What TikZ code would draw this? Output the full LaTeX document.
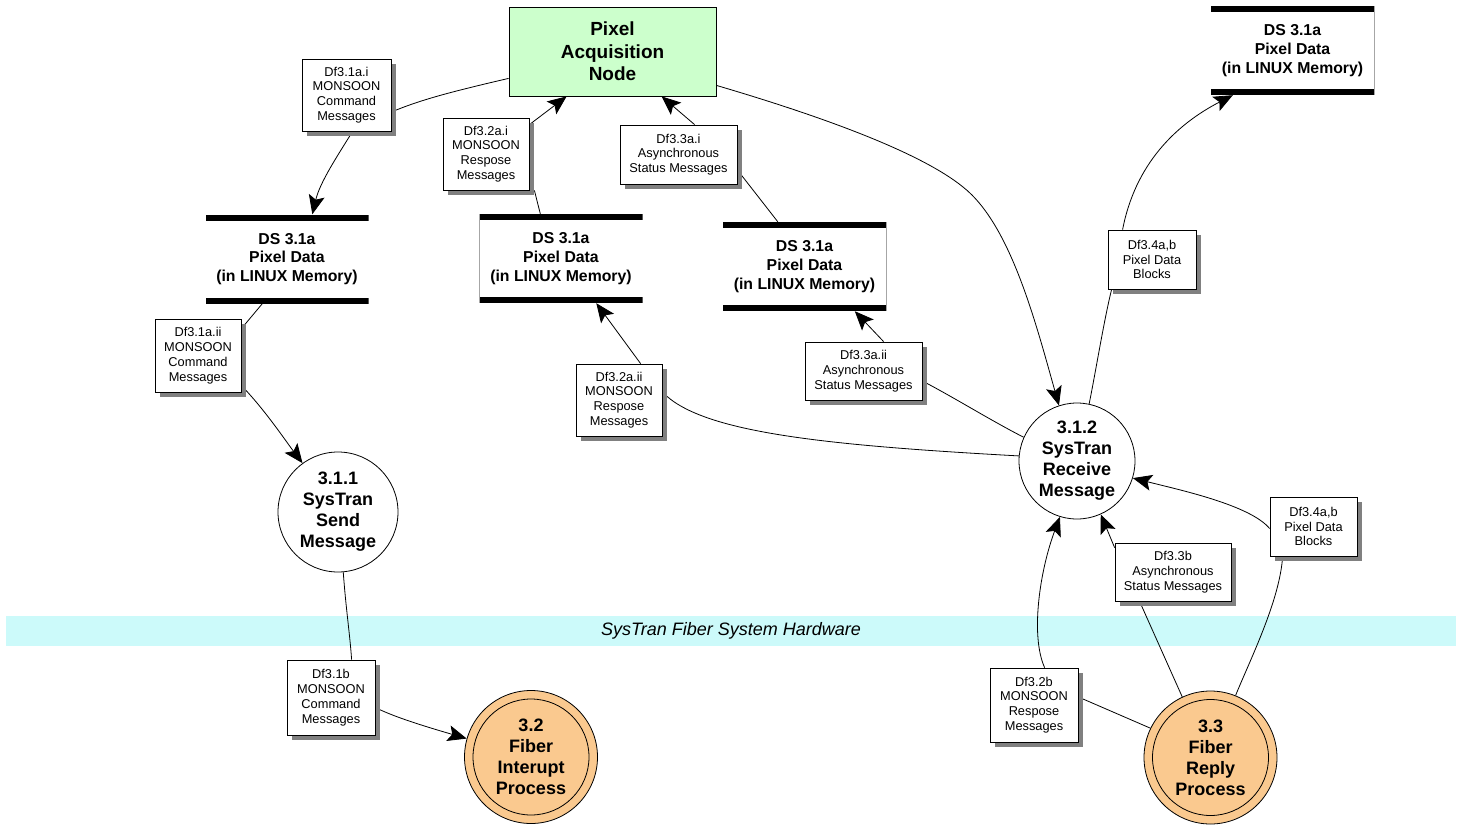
\documentclass[tikz,border=0pt]{standalone}
\usepackage{fontspec}
\setmainfont{Liberation Sans}
\usetikzlibrary{arrows.meta,shadows}
\definecolor{pangreen}{RGB}{204,255,204}
\definecolor{peach}{RGB}{250,201,143}
\definecolor{bandcyan}{RGB}{204,250,250}
\definecolor{shadowgray}{RGB}{128,128,128}
\pgfdeclarelayer{back}
\pgfdeclarelayer{flows}
\pgfsetlayers{back,flows,main}

\begin{document}
\begin{tikzpicture}[x=1pt,y=-1pt,
  every node/.style={inner sep=0pt, align=center},
  flowlabel/.style={rectangle, draw=black, line width=0.8pt, fill=white,
    drop shadow={shadow xshift=5pt, shadow yshift=-5pt, fill=shadowgray, opacity=1},
    font=\fontsize{12.8}{14.8}\selectfont},
  process/.style={circle, draw=black, line width=0.8pt, fill=white, minimum size=#1,
    font=\bfseries\fontsize{18}{21}\selectfont},
  hwprocess/.style={process=#1, fill=peach,
    path picture={\draw[line width=0.8pt] (path picture bounding box.center) circle[radius=58pt];}},
  store/.style={rectangle, fill=white, minimum width=163pt, minimum height=89pt,
    font=\bfseries\fontsize{15.8}{18.7}\selectfont,
    path picture={
      \fill[black] (path picture bounding box.north west) rectangle ([yshift=-6pt]path picture bounding box.north east);
      \fill[black] (path picture bounding box.south west) rectangle ([yshift=6pt]path picture bounding box.south east);}},
  storeside/.style={draw=black!35, line width=0.6pt},
  conn/.style={draw=black, line width=0.8pt},
  connarrow/.style={conn, -{Stealth[length=19pt,width=16pt,inset=4pt]}}
]
\useasboundingbox (0,0) rectangle (1464,825);

% hardware band
\begin{pgfonlayer}{back}
  \node[fill=bandcyan, minimum width=1450pt, minimum height=30pt,
        font=\itshape\fontsize{18}{20}\selectfont] (band) at (731,631) {SysTran Fiber System Hardware};
\end{pgfonlayer}

% external node
\node[rectangle, draw=black, line width=0.8pt, fill=pangreen, minimum width=207pt, minimum height=89pt,
      font=\bfseries\fontsize{19}{22.5}\selectfont] (pan) at (612.5,51.5) {Pixel\\Acquisition\\Node};

% data stores
\node[store] (ds1) at (287,259) {DS 3.1a\\Pixel Data\\(in LINUX Memory)};
\node[store] (ds2) at (561,258.5) {DS 3.1a\\Pixel Data\\(in LINUX Memory)};
\node[store] (ds3) at (804.5,266.5) {DS 3.1a\\Pixel Data\\(in LINUX Memory)};
\node[store] (dstr) at (1292.5,50.5) {DS 3.1a\\Pixel Data\\(in LINUX Memory)};
\draw[storeside] (ds2.north west) -- (ds2.south west);
\draw[storeside] (ds3.north east) -- (ds3.south east);
\draw[storeside] (dstr.north east) -- (dstr.south east);

% processes
\node[process=120pt] (c311) at (338,512) {3.1.1\\SysTran\\Send\\Message};
\node[process=116pt] (c312) at (1077,461) {3.1.2\\SysTran\\Receive\\Message};
\node[hwprocess=133pt] (c32) at (531,757) {3.2\\Fiber\\Interupt\\Process};
\node[hwprocess=133pt] (c33) at (1210.5,757.5) {3.3\\Fiber\\Reply\\Process};

% data flow labels
\node[flowlabel, minimum width=89pt, minimum height=72pt] (l1) at (346.5,95) {Df3.1a.i\\MONSOON\\Command\\Messages};
\node[flowlabel, minimum width=86pt, minimum height=72pt] (l2) at (486,154) {Df3.2a.i\\MONSOON\\Respose\\Messages};
\node[flowlabel, minimum width=117pt, minimum height=59pt] (l3) at (678.5,154.5) {Df3.3a.i\\Asynchronous\\Status Messages};
\node[flowlabel, minimum width=86pt, minimum height=73pt] (l4) at (198,355.5) {Df3.1a.ii\\MONSOON\\Command\\Messages};
\node[flowlabel, minimum width=86pt, minimum height=72pt] (l5) at (619,400) {Df3.2a.ii\\MONSOON\\Respose\\Messages};
\node[flowlabel, minimum width=117pt, minimum height=58pt] (l6) at (863.5,371) {Df3.3a.ii\\Asynchronous\\Status Messages};
\node[flowlabel, minimum width=88pt, minimum height=59pt] (l7) at (1152,259.5) {Df3.4a,b\\Pixel Data\\Blocks};
\node[flowlabel, minimum width=87pt, minimum height=59pt] (l8) at (1313.5,526.5) {Df3.4a,b\\Pixel Data\\Blocks};
\node[flowlabel, minimum width=116pt, minimum height=58pt] (l9) at (1173,572) {Df3.3b\\Asynchronous\\Status Messages};
\node[flowlabel, minimum width=88pt, minimum height=75pt] (l10) at (331,697.5) {Df3.1b\\MONSOON\\Command\\Messages};
\node[flowlabel, minimum width=88pt, minimum height=74pt] (l11) at (1034,705) {Df3.2b\\MONSOON\\Respose\\Messages};

% data flows
\begin{pgfonlayer}{flows}
  % command path: node -> store -> send -> interrupt
  \draw[conn] ([yshift=18pt]pan.south west) .. controls (450,92) and (420,100) .. ([yshift=-17pt]l1.east);
  \draw[connarrow] ([xshift=51pt]l1.south west) .. controls (338,155) and (320,182) .. ([xshift=107pt]ds1.north west);
  \draw[conn] ([xshift=57pt]ds1.south west) -- ([yshift=-10pt]l4.north east);
  \draw[connarrow] ([yshift=-30pt]l4.east) .. controls (265,410) and (285,440) .. (c311.126);
  \draw[conn] (c311.-85) .. controls (346,610) and (350,635) .. ([xshift=65pt]l10.north west);
  \draw[connarrow] ([yshift=-10pt]l10.east) .. controls (392,716) and (420,725) .. (c32.164);
  % response path
  \draw[conn] (c312.175) .. controls (820,445) and (700,432) .. ([yshift=8pt]l5.east);
  \draw[connarrow] ([xshift=65pt]l5.north west) -- ([xshift=117pt]ds2.south west);
  \draw[conn] ([xshift=61pt]ds2.north west) -- ([xshift=5pt]l2.south east);
  \draw[connarrow] ([yshift=-7pt]l2.north east) -- ([xshift=58pt]pan.south west);
  % asynchronous status path
  \draw[conn] (c312.156) .. controls (990,420) and (955,398) .. ([yshift=-10pt]l6.east);
  \draw[connarrow] ([xshift=79pt]l6.north west) -- ([xshift=132pt]ds3.south west);
  \draw[conn] ([xshift=55pt]ds3.north west) -- ([yshift=-15.5pt]l3.east);
  \draw[connarrow] ([xshift=75pt]l3.north west) -- ([xshift=153pt]pan.south west);
  % node to receive
  \draw[connarrow] ([yshift=11pt]pan.south east) .. controls (800,110) and (915,148) .. (963,187)
        .. controls (1010,224) and (1035,320) .. (c312.108);
  % pixel data blocks
  \draw[conn] (c312.78) .. controls (1096,370) and (1104,320) .. ([xshift=4pt]l7.south west);
  \draw[connarrow] ([xshift=15pt]l7.north west) .. controls (1135,165) and (1175,125) .. ([xshift=22pt]dstr.south west);
  % reply process outputs
  \draw[conn] (c33.154) -- ([yshift=8pt]l11.east);
  \draw[connarrow] ([xshift=55pt]l11.north west) .. controls (1030,635) and (1040,570) .. (c312.253);
  \draw[conn] (c33.115) -- ([xshift=25pt]l9.south west);
  \draw[connarrow] ([yshift=-5pt]l9.north west) -- (c312.294);
  \draw[conn] (c33.68) .. controls (1250,660) and (1280,600) .. ([xshift=13pt]l8.south west);
  \draw[connarrow] ([yshift=-2pt]l8.west) .. controls (1250,505) and (1180,490) .. (c312.-17);
\end{pgfonlayer}
\end{tikzpicture}
\end{document}
